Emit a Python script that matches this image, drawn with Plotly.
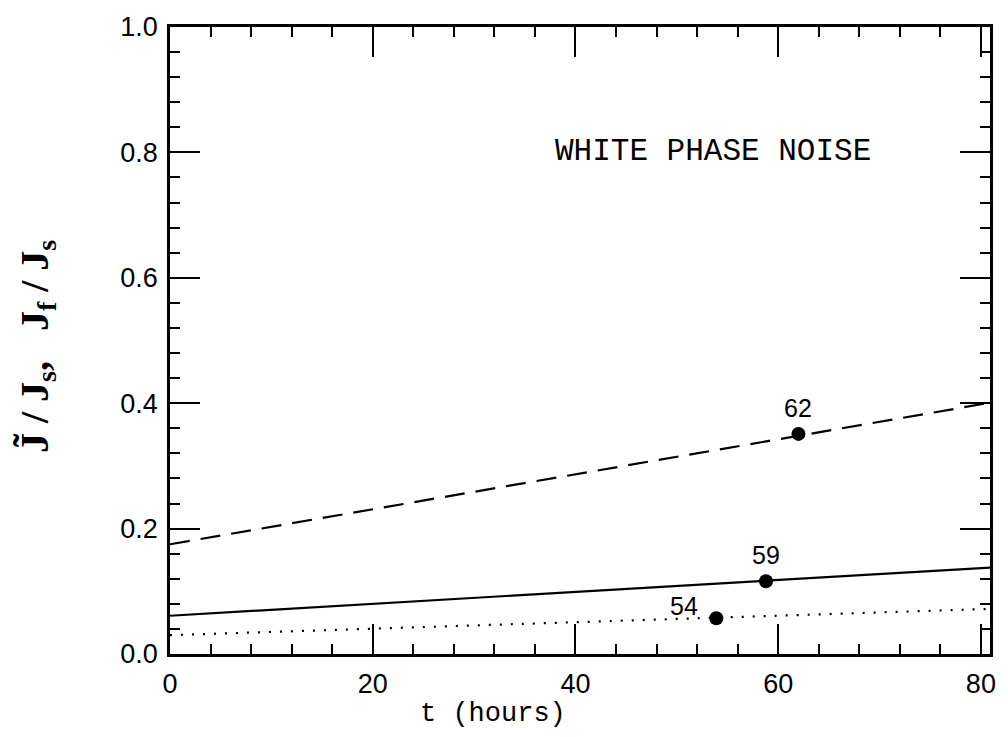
import plotly.graph_objects as go

# Normalised current ratios versus elapsed time (hours)
t_line = [0, 81]
j_dashed = [0.175, 0.401]
j_solid = [0.061, 0.138]
j_dotted = [0.030, 0.072]

# Marked operating points with their labels
pt_t = [62, 58.8, 53.9]
pt_j = [0.351, 0.116, 0.057]
pt_label = ["62", "59", "54"]

fig = go.Figure()

fig.add_trace(go.Scatter(x=t_line, y=j_dashed, mode="lines",
                         line=dict(color="black", width=2.2, dash="20px,11px")))
fig.add_trace(go.Scatter(x=t_line, y=j_solid, mode="lines",
                         line=dict(color="black", width=2.2)))
fig.add_trace(go.Scatter(x=t_line, y=j_dotted, mode="lines",
                         line=dict(color="black", width=2.2, dash="2px,9px")))
fig.add_trace(go.Scatter(x=pt_t, y=pt_j, mode="markers",
                         marker=dict(color="black", size=14)))

label_shift = [(0, 26), (0, 26), (-32, 12)]
for tx, jy, lab, (dx, dy) in zip(pt_t, pt_j, pt_label, label_shift):
    fig.add_annotation(x=tx, y=jy, text=lab, showarrow=False,
                       xshift=dx, yshift=dy,
                       font=dict(family="Liberation Sans", size=25, color="black"))

fig.add_annotation(x=0.662, y=0.801, xref="x domain", yref="y",
                   text="WHITE PHASE NOISE", showarrow=False,
                   xanchor="center", yanchor="middle",
                   font=dict(family="Liberation Mono", size=31, color="black"))

# x-axis title
fig.add_annotation(x=0.394, y=-0.096, xref="paper", yref="paper",
                   text="t (hours)", showarrow=False,
                   xanchor="center", yanchor="middle",
                   font=dict(family="Liberation Mono", size=27, color="black"))

# y-axis title
fig.add_annotation(x=-0.163, y=0.49, xref="paper", yref="paper",
                   text="<b>J\u0303 / J<sub>s</sub>,&nbsp;&nbsp;&nbsp;J<sub>f</sub> / J<sub>s</sub></b>",
                   textangle=-90, showarrow=False,
                   xanchor="center", yanchor="middle",
                   font=dict(family="Liberation Serif", size=40, color="black"))

axis_common = dict(
    showline=True, linecolor="black", linewidth=2.5, mirror="ticks",
    ticks="inside", ticklen=30, tickwidth=2, tickcolor="black",
    showgrid=False, zeroline=False,
    tickfont=dict(family="Liberation Sans", size=27, color="black"),
)

fig.update_xaxes(
    range=[0, 80.9], tickvals=[0, 20, 40, 60, 80],
    minor=dict(dtick=4, tick0=0, ticks="inside", ticklen=10, tickwidth=2,
               tickcolor="black", showgrid=False),
    ticklabelstandoff=4,
    **axis_common,
)
fig.update_yaxes(
    range=[0, 1.0], tickvals=[0, 0.2, 0.4, 0.6, 0.8, 1.0], tickformat=".1f",
    minor=dict(dtick=0.04, tick0=0, ticks="inside", ticklen=10, tickwidth=2,
               tickcolor="black", showgrid=False),
    ticklabelstandoff=4,
    **axis_common,
)

fig.update_layout(
    width=1008, height=737,
    margin=dict(l=170, r=13, t=21, b=83),
    paper_bgcolor="white", plot_bgcolor="white",
    showlegend=False,
)

fig.write_html("out.html")
